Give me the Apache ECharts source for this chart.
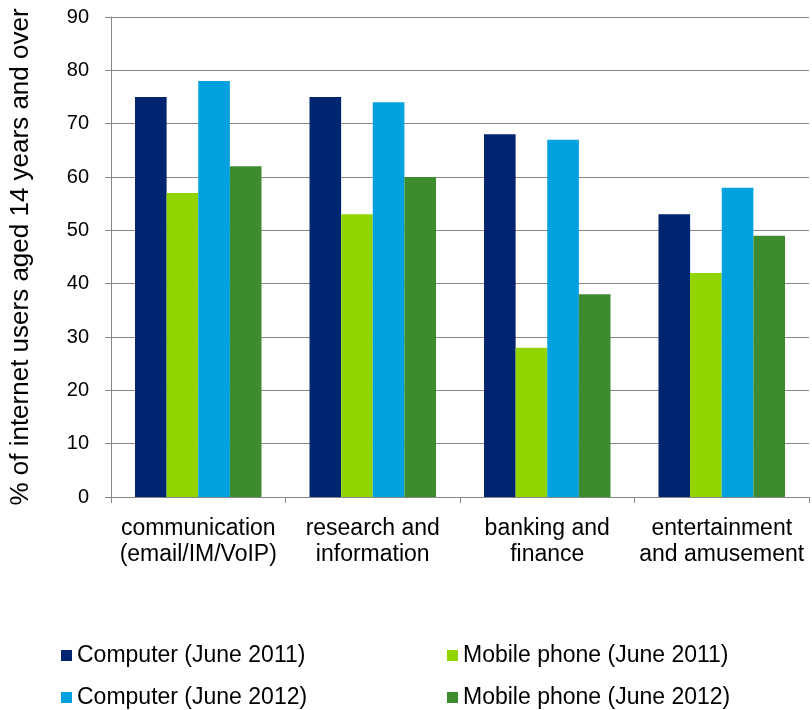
<!DOCTYPE html>
<html><head><meta charset="utf-8">
<script src="https://cdn.jsdelivr.net/npm/echarts@6/dist/echarts.min.js"></script>
<style>html,body{margin:0;padding:0;background:#fff}#c{width:812px;height:710px}</style>
</head><body><div id="c"></div>
<script>
const categories = ['communication\n(email/IM/VoIP)', 'research and\ninformation', 'banking and\nfinance', 'entertainment\nand amusement'];
const seriesNames = ['Computer (June 2011)', 'Mobile phone (June 2011)', 'Computer (June 2012)', 'Mobile phone (June 2012)'];
const computer2011 = [75, 75, 68, 53];
const mobile2011 = [57, 53, 28, 42];
const computer2012 = [78, 74, 67, 58];
const mobile2012 = [62, 60, 38, 49];
const yTicks = [0, 10, 20, 30, 40, 50, 60, 70, 80, 90];
const colors = ['#002570', '#92d400', '#00a1de', '#3d8b2f'];
const values = [computer2011, mobile2011, computer2012, mobile2012];

const font = 'Liberation Sans, Arial, sans-serif';
const legendPos = [[61, 644], [447, 644], [61, 686], [447, 686]];
const chart = echarts.init(document.getElementById('c'));
chart.setOption({
  animation: false,
  color: colors,
  grid: {left: 110, right: 3, top: 17, bottom: 213},
  legend: seriesNames.map((n, i) => ({
    data: [n], left: legendPos[i][0], top: legendPos[i][1], padding: 0,
    itemWidth: 11, itemHeight: 11, itemGap: 0, icon: 'rect',
    textStyle: {fontFamily: font, fontSize: 23, color: '#000', padding: [0, 0, 0, 0]}
  })),
  xAxis: {
    type: 'category', data: categories,
    axisLine: {lineStyle: {color: '#888', width: 1}},
    axisTick: {show: true, length: 6, lineStyle: {color: '#888'}},
    axisLabel: {fontFamily: font, fontSize: 23, color: '#000', margin: 19, lineHeight: 26, interval: 0}
  },
  yAxis: {
    type: 'value', min: yTicks[0], max: yTicks[yTicks.length - 1], interval: 10,
    name: '% of internet users aged 14 years and over', nameLocation: 'middle', nameGap: 77,
    nameTextStyle: {fontFamily: font, fontSize: 26, color: '#000'},
    axisLine: {show: true, lineStyle: {color: '#888', width: 1}},
    axisTick: {show: true, length: 6, lineStyle: {color: '#888'}},
    axisLabel: {fontFamily: font, fontSize: 20, color: '#000', margin: 22},
    splitLine: {lineStyle: {color: '#888', width: 1}}
  },
  series: seriesNames.map((n, i) => ({
    name: n, type: 'bar', data: values[i],
    barGap: '0%', barCategoryGap: '27.5%',
    itemStyle: {color: colors[i]}
  }))
});
</script></body></html>
